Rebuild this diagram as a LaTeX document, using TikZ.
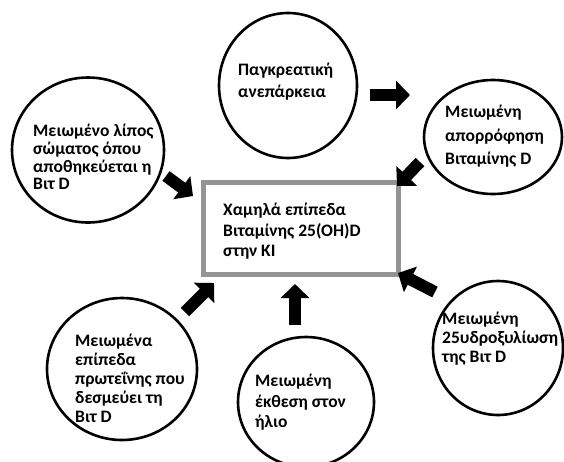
\documentclass[tikz,border=0pt]{standalone}
\usepackage{fontspec}
\setmainfont{Carlito}
\usetikzlibrary{shapes.geometric,arrows.meta}
\begin{document}
\begin{tikzpicture}[x=1pt,y=-1pt,
  circ/.style={draw=black,line width=2.6pt,ellipse,inner sep=0pt},
  txt/.style={align=left,font=\bfseries\fontsize{17.5}{#1}\selectfont,inner sep=0pt,anchor=north west},
  txt/.default=20,
  blk/.style={line width=12pt,-{Triangle[width=28pt,length=14pt]}}]
\useasboundingbox[fill=white] (0,0) rectangle (564,461);
% circles
\node[circ,minimum width=138pt,minimum height=145pt] (c1) at (288,85.5) {};
\node[circ,minimum width=138pt,minimum height=114pt] (c2) at (493,137) {};
\node[circ,minimum width=152pt,minimum height=145pt] (c3) at (88,150) {};
\node[circ,minimum width=150pt,minimum height=142pt] (c4) at (122,369) {};
\node[circ,minimum width=136pt,minimum height=130pt] (c5) at (306,402) {};
\node[circ,minimum width=130pt,minimum height=134pt] (c6) at (498,348) {};
% texts
\node[txt=22] (t1) at (238,63) {Παγκρεατική\\ανεπάρκεια};
\node[txt=23.5] (t2) at (445,105) {Μειωμένη\\απορρόφηση\\Βιταμίνης D};
\node[txt=17.7] (t3) at (33,124) {Μειωμένο λίπος\\σώματος όπου\\αποθηκεύεται η\\Βιτ D};
\node[txt=19] (t4) at (75,334) {Μειωμένα\\επίπεδα\\πρωτεΐνης που\\δεσμεύει τη\\Βιτ D};
\node[txt=20.5] (t5) at (255,374) {Μειωμένη\\έκθεση στον\\ήλιο};
\node[txt=19] (t6) at (442,312) {Μειωμένη\\25υδροξυλίωση\\της Βιτ D};
% center box
\node[draw=black!42,line width=5pt,minimum width=195pt,minimum height=92pt,inner sep=0pt] (box) at (300.5,228) {};
\node[txt=20.5] (tb) at (223,203) {Χαμηλά επίπεδα\\Βιταμίνης 25(OH)D\\στην ΚΙ};
% arrows
\coordinate (a1s) at (370,95); \coordinate (a1e) at (410,95);
\coordinate (a2s) at (420,162); \coordinate (a2e) at (397,186);
\coordinate (a3s) at (166,176); \coordinate (a3e) at (193,196);
\coordinate (a4s) at (185,312); \coordinate (a4e) at (214,283);
\coordinate (a5s) at (295,325); \coordinate (a5e) at (295,284);
\coordinate (a6s) at (435,292); \coordinate (a6e) at (398,273);
\draw[blk] (a1s) -- (a1e);
\draw[blk] (a2s) -- (a2e);
\draw[blk] (a3s) -- (a3e);
\draw[blk] (a4s) -- (a4e);
\draw[blk] (a5s) -- (a5e);
\draw[blk] (a6s) -- (a6e);
\end{tikzpicture}
\end{document}
